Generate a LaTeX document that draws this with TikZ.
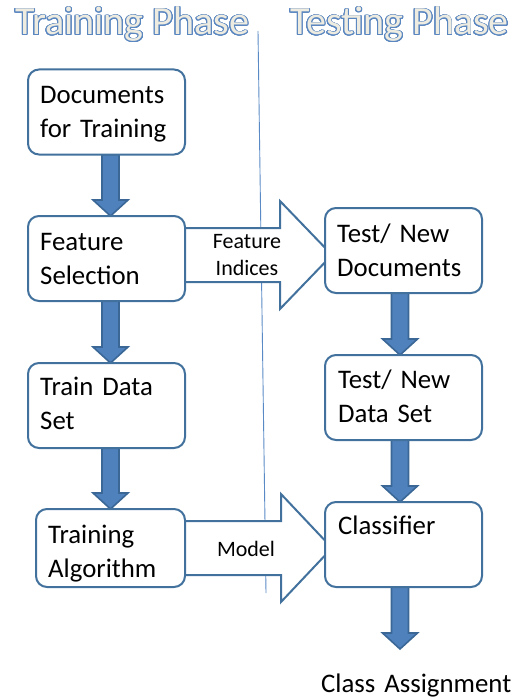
\documentclass[tikz,border=0pt]{standalone}
\usepackage{fontspec}
\setmainfont{Carlito}
\usepackage[copies]{contour}
\usetikzlibrary{calc}
\definecolor{boxline}{HTML}{41719C}
\definecolor{arrfill}{HTML}{4F81BD}
\definecolor{arrline}{HTML}{3A6796}
\definecolor{titleline}{HTML}{5B87C0}
\definecolor{titlefill}{HTML}{EEECE1}
\definecolor{divline}{HTML}{5A8AC6}
\pgfdeclarelayer{bbg}
\pgfdeclarelayer{bg}
\pgfsetlayers{bbg,bg,main}
\contourlength{0.9pt}
\contournumber{24}
\tikzset{
  box/.style={draw=boxline, line width=2pt, fill=white, rounded corners=11pt, inner sep=0pt, outer sep=0pt, minimum width=157pt, minimum height=85pt},
  boxtext/.style={anchor=base west, inner sep=0pt, text width=150pt, align=left, font=\fontsize{26.8}{34.5}\selectfont},
  arrlabel/.style={anchor=base, inner sep=0pt, text width=80pt, align=center, font=\fontsize{22}{27}\selectfont},
  downarr/.style={draw=arrline, fill=arrfill, line width=1.6pt, line join=miter},
  rightarr/.style={draw=boxline, fill=white, line width=2pt, line join=miter},
  title/.style={anchor=base west, inner sep=0pt, font=\fontsize{40}{42}\selectfont},
}
\newcommand\outlinedtitle[1]{\contour{titleline}{\textcolor{titlefill}{#1}}}
\newcommand\downblock[3]{%
  \draw[downarr] let \p1=(#1.south), \p2=(#2) in
   ({(#3-8.5)*1pt},\y1) -- ({(#3-8.5)*1pt},\y2+16pt) -- ({(#3-17.5)*1pt},\y2+16pt) -- ({#3*1pt},\y2)
   -- ({(#3+17.5)*1pt},\y2+16pt) -- ({(#3+8.5)*1pt},\y2+16pt) -- ({(#3+8.5)*1pt},\y1) -- cycle;}
\newcommand\rightblock[4]{%
  \draw[rightarr] let \p1=(#1.east), \p2=(#2.west) in
   (\x1,{-(#3-27)*1pt}) -- ({#4*1pt},{-(#3-27)*1pt}) -- ({#4*1pt},{-(#3-54)*1pt}) -- (\x2+7pt,{-#3*1pt})
   -- ({#4*1pt},{-(#3+54)*1pt}) -- ({#4*1pt},{-(#3+27)*1pt}) -- (\x1,{-(#3+27)*1pt});}
\begin{document}
\begin{tikzpicture}[x=1pt,y=-1pt]
\useasboundingbox (0,0) rectangle (516,698);
% titles
\node[title] (ttrain) at (15,35) {\outlinedtitle{Training Phase}};
\node[title] (ttest) at (290,35) {\outlinedtitle{Testing Phase}};
% boxes
\node[box] (doc) at (106.5,112) {};
\node[box] (fs) at (106.5,258.5) {};
\node[box] (train) at (106.5,405.5) {};
\node[box, minimum width=149pt, minimum height=78pt] (ta) at (110.5,548) {};
\node[box] (tnd) at (403.5,250.5) {};
\node[box] (tnds) at (403.5,397.5) {};
\node[box] (cls) at (403.5,544.5) {};
% box texts
\node[boxtext] (tdoc) at (40,103) {Documents\\for Training};
\node[boxtext] (tfs) at (40,250) {Feature\\Selection};
\node[boxtext] (ttr) at (40,395) {Train Data\\Set};
\node[boxtext] (tta) at (48,543) {Training\\Algorithm};
\node[boxtext] (ttnd) at (337,242) {Test/ New\\Documents};
\node[boxtext] (ttnds) at (338,388) {Test/ New\\Data Set};
\node[boxtext] (tcls) at (338,534) {Classifier};
\node[boxtext, text width=200pt] (ca) at (321,692) {Class Assignment};
\coordinate (catip) at (400,649);
% arrow labels
\node[arrlabel] (lfi) at (247,248) {Feature\\Indices};
\node[arrlabel] (lmodel) at (246,556) {Model};
% divider
\begin{pgfonlayer}{bbg}
\coordinate (dtop) at (258,31);
\coordinate (dbot) at (266,593);
\draw[divline, line width=0.9pt] (dtop) -- (dbot);
\end{pgfonlayer}
\begin{pgfonlayer}{bg}
\downblock{doc}{fs.north}{110.5}
\downblock{fs}{train.north}{110.5}
\downblock{train}{ta.north}{110.5}
\downblock{tnd}{tnds.north}{400}
\downblock{tnds}{cls.north}{400}
\downblock{cls}{catip}{400}
\rightblock{fs}{tnd}{255}{280}
\rightblock{ta}{cls}{548}{281}
\end{pgfonlayer}
\end{tikzpicture}
\end{document}
